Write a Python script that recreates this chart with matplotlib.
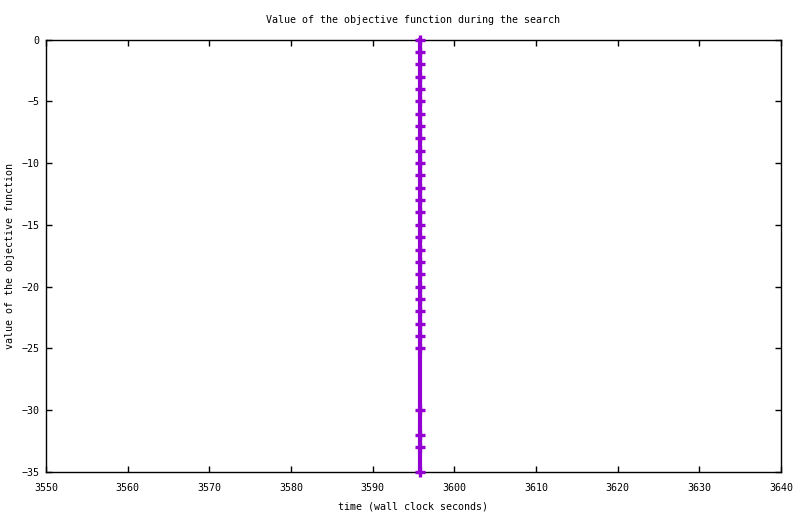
import matplotlib
matplotlib.use("Agg")
import matplotlib.pyplot as plt

# Data
times = [3595.8] * 30
values = [0, -1, -2, -3, -4, -5, -6, -7, -8, -9, -10, -11, -12, -13, -14, -15,
          -16, -17, -18, -19, -20, -21, -22, -23, -24, -25, -30, -32, -33, -35]
xticks = [3550, 3560, 3570, 3580, 3590, 3600, 3610, 3620, 3630, 3640]
yticks = [0, -5, -10, -15, -20, -25, -30, -35]

plt.rcParams['font.family'] = ['DejaVu Sans Mono']
fs = 7.2

fig = plt.figure(figsize=(8.0, 5.14), dpi=100)
ax = fig.add_axes([46/800, 1-472/514, (781-46)/800, (472-39.5)/514])

ax.plot(times, values, color='#9400D3', linewidth=3.0, marker='+',
        markersize=7.5, markeredgewidth=2.4, clip_on=False, zorder=3)

ax.set_xlim(3550, 3640)
ax.set_ylim(-35, 0)
ax.set_xticks(xticks)
ax.set_yticks(yticks)
ax.set_xticklabels([str(t) for t in xticks], fontsize=fs)
ax.set_yticklabels([str(t).replace('-', '\u2212') for t in yticks], fontsize=fs)
ax.tick_params(direction='in', length=4, width=1, top=True, right=True,
               labelsize=fs)
ax.tick_params(axis='x', pad=8)
ax.tick_params(axis='y', pad=5)
for s in ax.spines.values():
    s.set_linewidth(1.0)

ax.set_title('Value of the objective function during the search', fontsize=fs, pad=12)
ax.set_xlabel('time (wall clock seconds)', fontsize=fs, labelpad=6)
ax.set_ylabel('value of the objective function', fontsize=fs)
ax.yaxis.set_label_coords((15 - 46) / 735, 0.5)

fig.savefig('out.png', dpi=100)
